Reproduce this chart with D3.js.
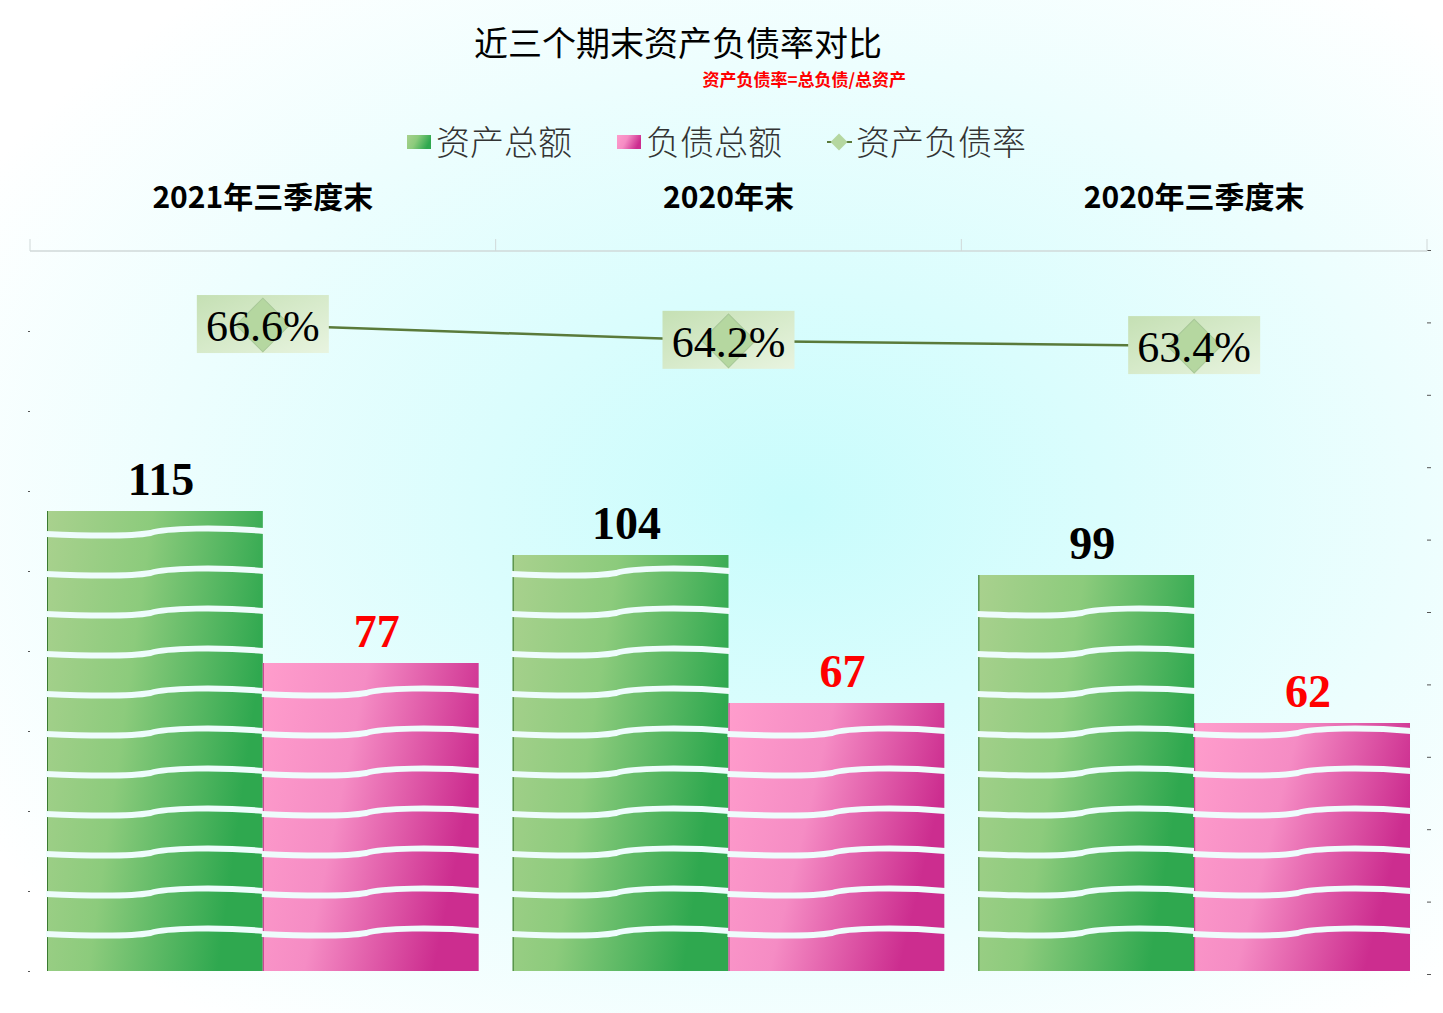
<!DOCTYPE html>
<html><head><meta charset="utf-8">
<script src="https://cdn.jsdelivr.net/npm/d3@7"></script>
<style>body{margin:0;overflow:hidden}</style>
</head><body>
<svg id="chart" width="1443" height="1013"></svg>
<script>
const categories = ["2021年三季度末", "2020年末", "2020年三季度末"];
const assets     = [115, 104, 99];
const debts      = [77, 67, 62];
const ratios     = [66.6, 64.2, 63.4];
const legendText = ["资产总额", "负债总额", "资产负债率"];

const W = 1443, H = 1013;
const svg = d3.select("#chart");
const defs = svg.append("defs");

// background
const bg = defs.append("radialGradient").attr("id", "bg").attr("cx", "55%").attr("cy", "50%").attr("r", "65%");
bg.append("stop").attr("offset", "0%").attr("stop-color", "#c8fcfc");
bg.append("stop").attr("offset", "100%").attr("stop-color", "#ffffff");
svg.append("rect").attr("width", W).attr("height", H).attr("fill", "url(#bg)");

function grad(id, c1, c2, c3) {
  const g = defs.append("linearGradient").attr("id", id).attr("x1", 0).attr("x2", 1).attr("y1", 0).attr("y2", 0.3);
  g.append("stop").attr("offset", "0%").attr("stop-color", c1);
  g.append("stop").attr("offset", "45%").attr("stop-color", c2);
  g.append("stop").attr("offset", "100%").attr("stop-color", c3);
}
grad("gGreen", "#a9d18e", "#8ccb7c", "#2fa84f");
grad("gPink", "#ff9dcc", "#f58cc4", "#cc2d8f");
const lg = defs.append("linearGradient").attr("id", "gLab").attr("x1", 0).attr("x2", 1).attr("y1", 0).attr("y2", 1);
lg.append("stop").attr("offset", "0%").attr("stop-color", "#c5e0b4");
lg.append("stop").attr("offset", "100%").attr("stop-color", "#e8f4e0");

const pLeft = 30, pRight = 1427, pTop = 251, pBase = 971;
const x0 = d3.scaleBand().domain(categories).range([pLeft, pRight]).paddingInner(0).paddingOuter(0);
const x1 = d3.scaleBand().domain(["a", "d"]).range([17, x0.bandwidth() - 17]);
const y = d3.scaleLinear().domain([0, 180]).range([pBase, pTop]);
const y2 = d3.scaleLinear().domain([-32, 78]).range([974, 250]);

// axes (tick marks only)
svg.append("g").attr("transform", `translate(${pLeft},0)`)
  .call(d3.axisLeft(y).tickValues(d3.range(0, 161, 20)).tickSize(2).tickFormat(""))
  .call(a => a.select(".domain").remove())
  .call(a => a.selectAll("line").attr("stroke", "#555"));
svg.append("g").attr("transform", `translate(${pRight},0)`)
  .call(d3.axisRight(y2).tickValues(d3.range(-32, 79, 11)).tickSize(4).tickFormat(""))
  .call(a => a.select(".domain").remove())
  .call(a => a.selectAll("line").attr("stroke", "#555"));

// top category axis
svg.append("line").attr("x1", pLeft).attr("x2", pRight).attr("y1", pTop).attr("y2", pTop)
  .attr("stroke", "#d0d8d8").attr("stroke-width", 1.5);
categories.concat([null]).forEach((c, i) => {
  const xx = pLeft + i * x0.bandwidth();
  svg.append("line").attr("x1", xx).attr("x2", xx).attr("y1", pTop - 12).attr("y2", pTop).attr("stroke", "#d0d8d8");
});
svg.selectAll(".cat").data(categories).join("text")
  .attr("x", d => x0(d) + x0.bandwidth() / 2).attr("y", 208)
  .attr("text-anchor", "middle").attr("font-family", "Noto Sans CJK SC").attr("font-weight", "bold")
  .attr("font-size", 30).attr("fill", "#000").text(d => d);

// bars
const bars = [];
categories.forEach((c, i) => {
  bars.push({ c, k: "a", v: assets[i], fill: "url(#gGreen)", lab: "#000", edge: "#3a7a30" });
  bars.push({ c, k: "d", v: debts[i], fill: "url(#gPink)", lab: "#ff0000", edge: "#c03a8a" });
});
const slab = 10;
bars.forEach(b => {
  const bx = x0(b.c) + x1(b.k), bw = x1.bandwidth();
  svg.append("rect").attr("x", bx).attr("y", y(b.v)).attr("width", bw).attr("height", pBase - y(b.v))
    .attr("fill", b.fill);
  svg.append("line").attr("x1", bx + 0.5).attr("x2", bx + 0.5).attr("y1", y(b.v)).attr("y2", pBase)
    .attr("stroke", b.edge).attr("stroke-width", 1);
  // wavy separators between slabs
  for (let s = slab; s < b.v; s += slab) {
    const yy = y(s) - 1;
    const p = d3.path();
    p.moveTo(bx - 1, yy + 4);
    p.bezierCurveTo(bx + bw * 0.2, yy + 6, bx + bw * 0.4, yy + 6, bx + bw * 0.48, yy + 3);
    p.bezierCurveTo(bx + bw * 0.55, yy - 2, bx + bw * 0.8, yy - 3, bx + bw + 1, yy + 1);
    svg.append("path").attr("d", p.toString()).attr("fill", "none")
      .attr("stroke", "#eefcfc").attr("stroke-width", 6);
  }
  svg.append("text").attr("x", bx + bw / 2 + 6).attr("y", y(b.v) - 16)
    .attr("text-anchor", "middle").attr("font-family", "Liberation Serif").attr("font-weight", "bold")
    .attr("font-size", 46).attr("fill", b.lab).text(b.v);
});

// ratio line
const cx = c => x0(c) + x0.bandwidth() / 2;
svg.append("path").datum(ratios)
  .attr("d", d3.line().x((d, i) => cx(categories[i])).y(d => y2(d)))
  .attr("fill", "none").attr("stroke", "#5a7a3a").attr("stroke-width", 2.5);
ratios.forEach((r, i) => {
  const px = cx(categories[i]), py = y2(r);
  svg.append("rect").attr("x", px - 66).attr("y", py - 30).attr("width", 132).attr("height", 58)
    .attr("fill", "url(#gLab)");
  svg.append("rect").attr("x", px - 19).attr("y", py - 19).attr("width", 38).attr("height", 38)
    .attr("transform", `rotate(45,${px},${py})`).attr("fill", "#b5d7a0")
    .attr("stroke", "#a8c898").attr("stroke-width", 1);
  svg.append("text").attr("x", px).attr("y", py + 16).attr("text-anchor", "middle")
    .attr("font-family", "Liberation Serif").attr("font-size", 44).attr("fill", "#000")
    .text(r.toFixed(1) + "%");
});

// title
svg.append("text").attr("x", 678).attr("y", 56).attr("text-anchor", "middle")
  .attr("font-family", "Noto Sans CJK SC").attr("font-size", 34).attr("fill", "#000").text("近三个期末资产负债率对比");
svg.append("text").attr("x", 906).attr("y", 86).attr("text-anchor", "end")
  .attr("font-family", "Noto Sans CJK SC").attr("font-weight", "bold").attr("font-size", 17)
  .attr("fill", "#ff0000").text("资产负债率=总负债/总资产");

// legend
const legX = [407, 617, 827];
legendText.forEach((t, i) => {
  const lx = legX[i], ly = 142;
  if (i < 2) {
    svg.append("rect").attr("x", lx).attr("y", ly - 7).attr("width", 24).attr("height", 14)
      .attr("fill", i === 0 ? "url(#gGreen)" : "url(#gPink)");
  } else {
    svg.append("line").attr("x1", lx).attr("x2", lx + 25).attr("y1", ly).attr("y2", ly)
      .attr("stroke", "#5a7a3a").attr("stroke-width", 2);
    svg.append("rect").attr("x", lx + 6).attr("y", ly - 6).attr("width", 12).attr("height", 12)
      .attr("transform", `rotate(45,${lx + 12},${ly})`).attr("fill", "#b5d7a0");
  }
  svg.append("text").attr("x", lx + 29).attr("y", ly + 13).attr("font-family", "Noto Sans CJK SC")
    .attr("font-weight", 300).attr("font-size", 34).attr("fill", "#333").text(t);
});
</script>
</body></html>
